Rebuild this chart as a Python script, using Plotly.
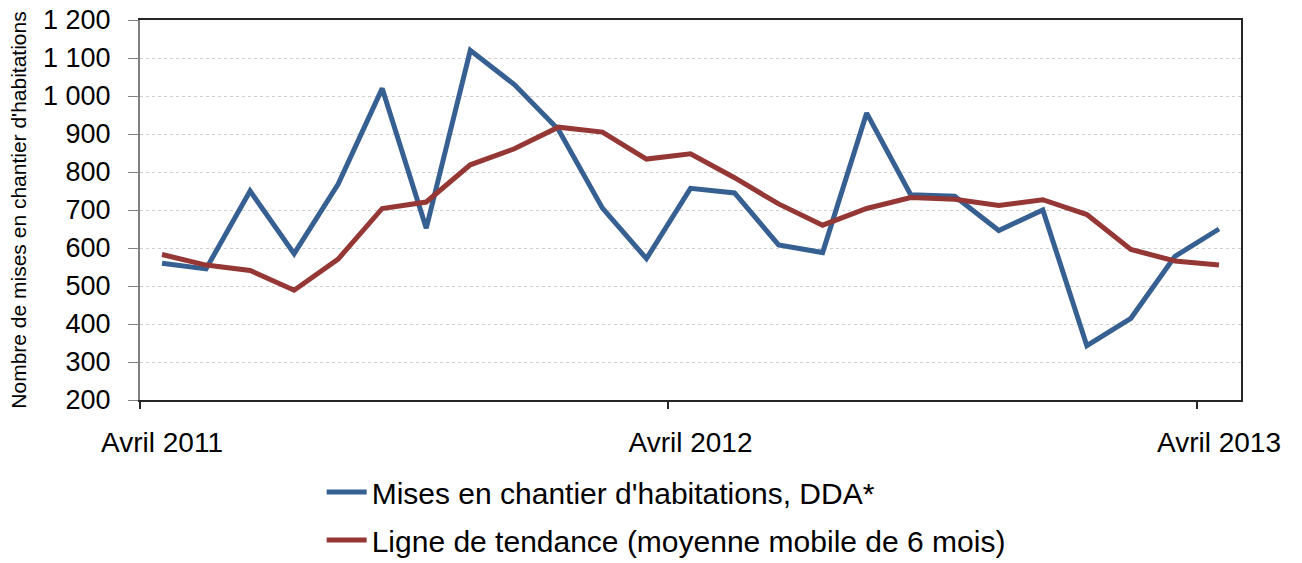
import plotly.graph_objects as go

months = list(range(25))  # avril 2011 .. avril 2013
tick_labels = ["Avril 2011", "Avril 2012", "Avril 2013"]
tick_label_pos = [0, 12, 24]
tick_mark_pos = [-0.5, 11.5, 23.5]

mises_en_chantier = [560, 545, 750, 585, 768, 1020, 652, 1120, 1030, 912,
                     705, 572, 757, 745, 608, 588, 955, 740, 736, 646,
                     700, 343, 415, 578, 650]
tendance = [583, 555, 541, 489, 571, 704, 721, 819, 861, 918,
            905, 834, 848, 785, 716, 660, 704, 733, 728, 712,
            727, 688, 596, 566, 555]

blue = "#376092"
red = "#953735"

fig = go.Figure()
fig.add_trace(go.Scatter(x=months, y=mises_en_chantier, mode="lines",
                         name="Mises en chantier d'habitations, DDA*",
                         line=dict(color=blue, width=5), legendgroup="a"))
fig.add_trace(go.Scatter(x=months, y=tendance, mode="lines",
                         name="Ligne de tendance (moyenne mobile de 6 mois)",
                         line=dict(color=red, width=5), legendgroup="b"))
# invisible trace to carry the between-category tick marks and right border
fig.add_trace(go.Scatter(x=[months[0], months[-1]], y=[None, None], xaxis="x2",
                         yaxis="y2", showlegend=False, hoverinfo="skip"))

fig.update_layout(
    width=1302, height=563,
    margin=dict(l=140, r=61, t=20, b=163, autoexpand=False),
    paper_bgcolor="white", plot_bgcolor="white",
    separators=", ",
    font=dict(family="Liberation Sans, Arial", color="black"),
    xaxis=dict(range=[-0.5, 24.5], tickvals=tick_label_pos, ticktext=tick_labels,
               ticks="", showgrid=False, zeroline=False, automargin=False,
               showline=True, linecolor="#262626", linewidth=2, mirror=True,
               tickfont=dict(size=28), ticklabelstandoff=16,
               ticklabeloverflow="allow"),
    xaxis2=dict(range=[-0.5, 24.5], overlaying="x", side="bottom", anchor="y",
                tickvals=tick_mark_pos, ticktext=["", "", ""], ticks="outside",
                ticklen=8, tickcolor="#262626", tickwidth=1.5, automargin=False,
                showgrid=False, zeroline=False, showline=False),
    yaxis=dict(range=[200, 1200], dtick=100, tickformat=",d",
               ticks="outside", ticklen=10, tickcolor="#808080", automargin=False,
               showline=True, linecolor="#808080", linewidth=2,
               showgrid=True, gridcolor="#d0d0d0", griddash="dot", gridwidth=1,
               zeroline=False, tickfont=dict(size=27), ticklabelstandoff=12,
               ticklabeloverflow="allow",
               title=dict(text="Nombre de mises en chantier d'habitations",
                          font=dict(size=21), standoff=11)),
    yaxis2=dict(range=[200, 1200], overlaying="y", side="right", anchor="x",
                showticklabels=False, ticks="", showgrid=False, zeroline=False,
                showline=True, linecolor="#262626", linewidth=2, automargin=False),
    legend=dict(x=0.1650, xanchor="left", y=-0.174, yanchor="top",
                font=dict(size=30), traceorder="grouped", tracegroupgap=6,
                bgcolor="rgba(0,0,0,0)", itemwidth=40),
    showlegend=True,
)

fig.write_html("out.html", config={"displayModeBar": False},
               post_script="document.body.style.margin='0';")
